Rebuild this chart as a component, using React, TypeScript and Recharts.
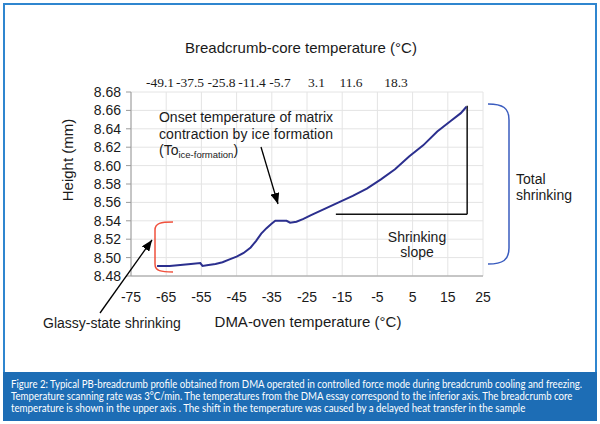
import { LineChart, Line, XAxis, YAxis, CartesianGrid, ReferenceLine } from 'recharts'

// DMA-oven temperature (°C) vs sample height (mm)
const ovenTemps = [
  -67.6, -64, -61, -58, -55.3, -54.7, -53, -51, -49, -47, -45, -43, -41, -39.5, -38, -36.5, -35, -34,
  -32, -30.8, -29.8, -28, -26, -24, -20, -16, -12, -8, -4, 0, 4, 8, 12, 16, 18.7, 20.3,
]
const heights = [
  8.491, 8.491, 8.492, 8.493, 8.494, 8.491, 8.492, 8.493, 8.495, 8.498, 8.501, 8.505, 8.511, 8.518,
  8.526, 8.532, 8.537, 8.54, 8.54, 8.54, 8.538, 8.539, 8.542, 8.546, 8.553, 8.56, 8.567, 8.575, 8.585,
  8.596, 8.61, 8.622, 8.637, 8.649, 8.657, 8.664,
]
const xTicks = [-75, -65, -55, -45, -35, -25, -15, -5, 5, 15, 25]
const yTicks = [8.48, 8.5, 8.52, 8.54, 8.56, 8.58, 8.6, 8.62, 8.64, 8.66, 8.68]
const coreTempLabels = ['-49.1', '-37.5', '-25.8', '-11.4', '-5.7', '3.1', '11.6', '18.3']

// shrinking slope triangle corners (oven temp, height)
const slopeStart = { x: -16.8, y: 8.547 }
const slopeEnd = { x: 20.5, y: 8.547 }
const slopeTop = { x: 20.5, y: 8.665 }

const captionLines = [
  'Figure 2: Typical PB-breadcrumb profile obtained from DMA operated in controlled force mode during breadcrumb cooling and freezing.',
  'Temperature scanning rate was 3°C/min. The temperatures from the DMA essay correspond to the inferior axis. The breadcrumb core',
  'temperature is shown in the upper axis . The shift in the temperature was caused by a delayed heat transfer in the sample',
]

const data = ovenTemps.map((t, i) => ({ t, h: heights[i] }))

const FONT = 'Arial, "Liberation Sans", sans-serif'
const CAPTION_FONT = '11px Lato, "Open Sans", sans-serif'
const captionWidths = [572, 564, 516]
const coreLabelX = [160, 190, 221.5, 252, 280, 316.5, 351, 396]

// the caption face in the figure is condensed, so squeeze each line to its width
function lineScales() {
  const ctx = document.createElement('canvas').getContext('2d')
  if (!ctx) return captionLines.map(() => 0.85)
  ctx.font = CAPTION_FONT
  return captionLines.map((l, i) => Math.min(1, captionWidths[i] / ctx.measureText(l).width))
}

function Caption() {
  const scales = lineScales()
  return (
    <div style={{ position: 'absolute', left: 3, top: 372, width: 594, height: 49, background: '#1d6db5' }}>
      <svg width={594} height={49} fill="#fff" style={{ font: CAPTION_FONT }}>
        {captionLines.map((line, i) => (
          <text key={i} transform={`translate(8,${16 + i * 12}) scale(${scales[i]},1)`}>
            {line}
          </text>
        ))}
      </svg>
    </div>
  )
}

function Annotations() {
  return (
    <svg
      width={600}
      height={424}
      style={{ position: 'absolute', left: 0, top: 0, pointerEvents: 'none' }}
      fontFamily={FONT}
      fill="#1a1a1a"
    >
      <defs>
        <marker id="arrowHead" markerWidth={11} markerHeight={9} refX={11} refY={4.5} orient="auto" markerUnits="userSpaceOnUse">
          <path d="M0,0 L11,4.5 L0,9 z" fill="#000" />
        </marker>
      </defs>

      <text x={301} y={53} fontSize={15} textAnchor="middle">Breadcrumb-core temperature (°C)</text>
      {coreTempLabels.map((l, i) => (
        <text key={l} x={coreLabelX[i]} y={87} fontSize={13.5} textAnchor="middle" fontFamily='"Liberation Serif", "Times New Roman", serif'>
          {l}
        </text>
      ))}

      <text transform="translate(73,160) rotate(-90)" fontSize={15} textAnchor="middle">Height (mm)</text>
      <text x={308} y={327} fontSize={15} textAnchor="middle">DMA-oven temperature (°C)</text>

      <text x={159} y={122} fontSize={14} textLength={174} lengthAdjust="spacing">Onset temperature of matrix</text>
      <text x={159} y={139} fontSize={14} textLength={174} lengthAdjust="spacing">contraction by ice formation</text>
      <text x={159} y={155} fontSize={14}>
        (To<tspan fontSize={9.5} dy={3}>ice-formation</tspan><tspan dy={-3}>)</tspan>
      </text>
      <line x1={261} y1={147} x2={278} y2={204} stroke="#000" strokeWidth={1.3} markerEnd="url(#arrowHead)" />

      <text x={43} y={328} fontSize={14}>Glassy-state shrinking</text>
      <line x1={100} y1={313} x2={152} y2={240} stroke="#000" strokeWidth={1.3} markerEnd="url(#arrowHead)" />
      <path d="M173,222 C161,222 155,223 155,230 L155,264 C155,271 161,272 173,272" fill="none" stroke="#f0503c" strokeWidth={1.5} />

      <path d="M488,104 C503,104 509,108 509,120 L509,248 C509,260 503,264 488,264" fill="none" stroke="#3a5cbf" strokeWidth={1.5} />
      <text x={516} y={184} fontSize={14}>Total</text>
      <text x={516} y={200} fontSize={14}>shrinking</text>

      <text x={417} y={242} fontSize={14} textAnchor="middle">Shrinking</text>
      <text x={417} y={257} fontSize={14} textAnchor="middle">slope</text>
    </svg>
  )
}

export default function App() {
  return (
    <div style={{ position: 'fixed', left: 0, top: 0, width: 600, height: 424, background: '#fff', fontFamily: FONT }}>
      <div
        style={{
          position: 'absolute',
          left: 3,
          top: 3,
          width: 594,
          height: 418,
          border: '2px solid #2f86cf',
          boxSizing: 'border-box',
        }}
      />
      <LineChart
        width={600}
        height={424}
        data={data}
        margin={{ top: 92, right: 117, left: 71, bottom: 118 }}
        style={{ position: 'absolute', left: 0, top: 0 }}
      >
        <CartesianGrid stroke="#e4e4e4" />
        <XAxis
          dataKey="t"
          type="number"
          domain={[-75, 25]}
          ticks={xTicks}
          interval={0}
          height={30}
          axisLine={{ stroke: '#9a9a9a' }}
          tickLine={false}
          tickSize={6}
          tickMargin={10}
          tick={{ fill: '#1a1a1a', fontSize: 14, fontFamily: FONT }}
        />
        <YAxis
          type="number"
          domain={[8.48, 8.68]}
          ticks={yTicks}
          interval={0}
          width={60}
          tickFormatter={(v: number) => v.toFixed(2)}
          axisLine={{ stroke: '#9a9a9a' }}
          tickLine={{ stroke: '#9a9a9a' }}
          tickSize={5}
          tickMargin={5}
          tick={{ fill: '#1a1a1a', fontSize: 14, fontFamily: FONT }}
        />
        <ReferenceLine segment={[slopeStart, slopeEnd]} stroke="#111" strokeWidth={1.5} />
        <ReferenceLine segment={[slopeEnd, slopeTop]} stroke="#111" strokeWidth={1.5} />
        <Line
          dataKey="h"
          type="linear"
          stroke="#2b2f8e"
          strokeWidth={2}
          dot={false}
          isAnimationActive={false}
        />
      </LineChart>
      <Annotations />
      <Caption />
    </div>
  )
}
